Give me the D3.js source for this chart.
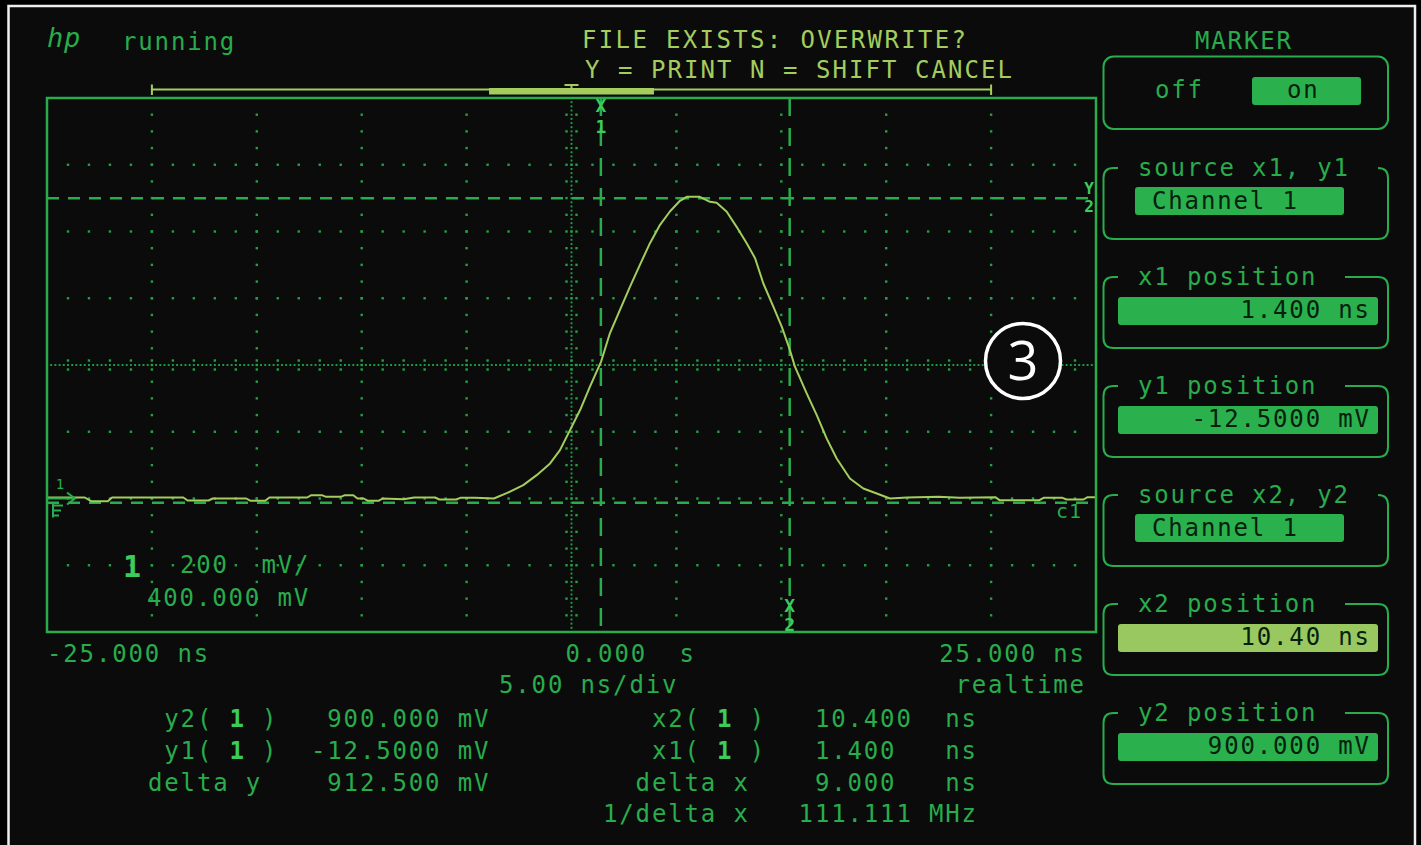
<!DOCTYPE html>
<html><head><meta charset="utf-8">
<script src="https://cdn.jsdelivr.net/npm/d3@7"></script>
<style>
html,body{margin:0;padding:0;background:#000;}
svg{display:block;}
text{font-family:"DejaVu Sans Mono",monospace;white-space:pre;}
</style></head><body>
<svg id="c" width="1421" height="845"></svg>
<script>
// ---------------- data ----------------
const timeDomain = [-25, 25];        // ns, 5 ns/div
const voltDomain = [-400, 1200];     // mV, 200 mV/div, 400 mV centre
const timeDivTicks = [-20, -15, -10, -5, 5, 10, 15, 20];
const voltDivTicks = [-200, 0, 200, 600, 800, 1000];
const timeCentre = 0, voltCentre = 400;

const traceTime = [-25, -23.2, -22.9, -22.1, -21.9, -18.5, -18.3, -17.3, -17.1, -15.5, -15.3, -14.6, -14.4, -12.6, -12.4, -11.9, -11.7, -11.0, -10.8, -10.4, -10.2, -9.9, -9.7, -9.2, -9.0, -8.0, -7.5, -6.5, -6.3, -5.5, -5.3, -4.6, -3.7,
  -3.09, -2.30, -1.66, -1.02, -0.55, -0.07, 0.41, 0.88, 1.41, 1.83, 2.31, 2.79, 3.26, 3.74, 4.22, 4.69, 5.17, 5.49, 6.12, 6.60, 6.92, 7.40, 7.87, 8.35, 8.75, 9.14, 9.62, 10.02, 10.41, 10.65, 11.21, 11.69, 12.16, 12.64, 13.27, 13.91, 14.55, 15.18,
  16.0, 17.5, 18.5, 20.2, 20.4, 22.3, 22.5, 23.4, 23.6, 24.4, 24.6, 25];
const traceVolt = [3, 3, -8, -8, 3, 3, -6, -6, 0, 0, -7, -7, 3, 3, 10, 10, 5, 5, 10, 10, 0, 0, -7, -7, 0, -2, 3, 3, -3, -3, 2, 2, 0,
  16, 40, 70, 105, 145, 205, 265, 335, 410, 495, 565, 635, 700, 765, 820, 860, 892, 904, 904, 889, 886, 859, 814, 765, 720, 645, 575, 515, 445, 395, 315, 250, 180, 120, 60, 30, 15, 0,
  3, 5, 2, 4, -5, -5, 2, 2, -3, -3, 4, 4];

const cursorTimes = [1.4, 10.4];       // x1, x2 (ns)
const cursorVolts = [-12.5, 900];      // y1, y2 (mV)
const groundVolt = 0;
const overviewRange = [-20, 20];
const windowRange = [-3.93, 3.93];

const timeTickLabels = ["-25.000 ns", "0.000  s", "25.000 ns"];
const scaleLabels = ["5.00 ns/div", "realtime"];
const channelLabels = ["1", "200  mV/", "400.000 mV"];
const headerTexts = ["running", "FILE EXISTS: OVERWRITE?", "Y = PRINT N = SHIFT CANCEL"];

const yRowLabels = ["y2(", "y1(", "delta y"];
const yRowValues = ["900.000 mV", "-12.5000 mV", "912.500 mV"];
const xRowLabels = ["x2(", "x1(", "delta x", "1/delta x"];
const xRowValues = ["10.400", "1.400", "9.000", "111.111"];
const xRowUnits = ["ns", "ns", "ns", "MHz"];

const menuTitle = "MARKER";
const menuToggle = ["off", "on"];
const menuLabels = ["source x1, y1", "x1 position", "y1 position", "source x2, y2", "x2 position", "y2 position"];
const menuValues = ["Channel 1", "1.400 ns", "-12.5000 mV", "Channel 1", "10.40 ns", "900.000 mV"];
const menuKinds = ["source", "pos", "pos", "source", "pos-active", "pos"];

// ---------------- styles ----------------
const GREEN = "#29ac4b", GRID = "#20a244", BRIGHT = "#3ccc5c", YG = "#a4cd5e";
const HL = "#2bb04e", HL2 = "#98c85f", HLTXT = "#07200d";
const FS = 24, CW = 16.3;

const svg = d3.select("#c");
svg.append("rect").attr("x", 0).attr("y", 0).attr("width", 1421).attr("height", 845).attr("fill", "#000");
svg.append("rect").attr("x", 8.5).attr("y", 6).attr("width", 1406.5).attr("height", 900)
  .attr("fill", "#0b0b0b").attr("stroke", "#eeeeee").attr("stroke-width", 2.5);

function txt(g, s, x, y, o = {}) {
  const fs = o.fs || FS, cw = o.cw || CW;
  const ls = cw - 0.6021 * fs;
  const w = s.length * cw - ls;
  let x0 = x;
  if (o.anchor === "end") x0 = x - w;
  else if (o.anchor === "middle") x0 = x - w / 2;
  return g.append("text").attr("x", x0).attr("y", y).attr("font-size", fs)
    .attr("letter-spacing", ls).attr("fill", o.fill || GREEN)
    .attr("font-weight", o.bold ? "bold" : null)
    .attr("font-style", o.italic ? "italic" : null).text(s);
}

// ---------------- scales ----------------
const L = 47, R = 1096, T = 98, B = 632;
const x = d3.scaleLinear().domain(timeDomain).range([L, R]);
const y = d3.scaleLinear().domain(voltDomain).range([B, T]);

const plot = svg.append("g");

// grid dots
const dots = plot.append("g").attr("fill", GRID);
function dot(px, py, s = 2.4) { dots.append("rect").attr("x", px - s / 2).attr("y", py - s / 2).attr("width", s).attr("height", s); }
timeDivTicks.forEach(t => { for (let v = voltDomain[0] + 50; v < voltDomain[1]; v += 50) dot(x(t), y(v)); });
voltDivTicks.forEach(v => { for (let t = timeDomain[0] + 1; t < timeDomain[1] - 0.01; t += 1) dot(x(t), y(v)); });
// centre lines (dense, with cross ticks)
for (let v = voltDomain[0]; v <= voltDomain[1]; v += 12.5) dot(x(timeCentre), y(v), 1.9);
for (let v = voltDomain[0] + 50; v < voltDomain[1]; v += 50) { dot(x(timeCentre) - 5, y(v)); dot(x(timeCentre) + 5, y(v)); }
for (let t = timeDomain[0]; t <= timeDomain[1] + 0.001; t += 0.2) dot(x(t), y(voltCentre), 1.9);
for (let t = timeDomain[0] + 1; t < timeDomain[1] - 0.01; t += 1) { dot(x(t), y(voltCentre) - 4.5); dot(x(t), y(voltCentre) + 4.5); }

// cursors
const cur = plot.append("g").attr("stroke", GREEN).attr("stroke-width", 2.5).attr("fill", "none");
cursorVolts.forEach(v => cur.append("line").attr("x1", L).attr("x2", R).attr("y1", y(v)).attr("y2", y(v)).attr("stroke-dasharray", "12,9"));
cursorTimes.forEach(t => cur.append("line").attr("x1", x(t)).attr("x2", x(t)).attr("y1", T).attr("y2", B).attr("stroke-dasharray", "18,12"));

// trace
const pts = traceTime.map((t, i) => [t, traceVolt[i]]);
plot.append("path").datum(pts).attr("fill", "none").attr("stroke", YG).attr("stroke-width", 2)
  .attr("stroke-linejoin", "round")
  .attr("d", d3.line().x(d => x(d[0])).y(d => y(d[1])));

// border
plot.append("rect").attr("x", L).attr("y", T).attr("width", R - L).attr("height", B - T)
  .attr("fill", "none").attr("stroke", GREEN).attr("stroke-width", 2.5);

// cursor labels (stacked, non-overlapping)
const lab = { anchor: "middle", fs: 18, cw: 12, bold: 1, fill: BRIGHT };
txt(svg, "X", x(cursorTimes[0]), 112, lab);
txt(svg, "1", x(cursorTimes[0]), 133, lab);
txt(svg, "X", x(cursorTimes[1]), 612, lab);
txt(svg, "2", x(cursorTimes[1]), 631, lab);
txt(svg, "Y", 1089, y(cursorVolts[1]) - 4, { ...lab, fs: 16, cw: 11 });
txt(svg, "2", 1089, y(cursorVolts[1]) + 14, { ...lab, fs: 16, cw: 11 });
txt(svg, "c1", 1056, y(cursorVolts[0]) + 15, { fs: 20, cw: 13 });

// ground marker
const gy = y(groundVolt);
const gm = svg.append("g").attr("stroke", GREEN).attr("stroke-width", 2).attr("fill", "none");
gm.append("path").attr("d", `M48,${gy} L75,${gy} M67,${gy - 6} L75,${gy} L67,${gy + 6}`);
gm.append("path").attr("d", `M53,${gy + 5} L53,${gy + 19} M53,${gy + 7} L63,${gy + 7} M53,${gy + 12} L61,${gy + 12} M53,${gy + 17} L59,${gy + 17}`);
txt(svg, "1", 60, gy - 10, { anchor: "middle", fs: 14, cw: 9 });

// channel info
txt(svg, channelLabels[0], 123, 577, { fs: 30, cw: 18, bold: 1, fill: BRIGHT });
txt(svg, channelLabels[1], 180, 573);
txt(svg, channelLabels[2], 147, 606);

// header
txt(svg, "hp", 47, 47, { fs: 27, cw: 17, italic: 1 });
txt(svg, headerTexts[0], 122, 50);
txt(svg, headerTexts[1], 582, 48, { fill: YG, cw: 16.8 });
txt(svg, headerTexts[2], 585, 78, { fill: YG, cw: 16.5 });

// overview bar
const ob = svg.append("g").attr("stroke", YG).attr("fill", YG);
ob.append("line").attr("x1", x(overviewRange[0])).attr("x2", x(overviewRange[1])).attr("y1", 89.5).attr("y2", 89.5).attr("stroke-width", 2);
overviewRange.forEach(t => ob.append("line").attr("x1", x(t)).attr("x2", x(t)).attr("y1", 84.5).attr("y2", 95).attr("stroke-width", 2));
ob.append("rect").attr("x", x(windowRange[0])).attr("y", 88).attr("width", x(windowRange[1]) - x(windowRange[0])).attr("height", 6.5).attr("stroke", "none");
ob.append("path").attr("d", `M${x(0) - 7},85 L${x(0) + 7},85 M${x(0)},85 L${x(0)},89`).attr("stroke-width", 2).attr("fill", "none");

// axis labels
txt(svg, timeTickLabels[0], x(timeDomain[0]), 662);
txt(svg, timeTickLabels[1], x(0) - 6, 662);
txt(svg, timeTickLabels[2], 1084, 662, { anchor: "end" });
txt(svg, scaleLabels[0], 499, 693);
txt(svg, scaleLabels[1], 1084, 693, { anchor: "end" });

// measurement table
const rowY = [727, 759, 791, 822];
const LX = 148, RX = 603;
yRowLabels.forEach((s, i) => {
  if (s.endsWith("(")) {
    txt(svg, s, LX + CW, rowY[i]);
    txt(svg, "1", LX + 5 * CW, rowY[i], { bold: 1, fill: BRIGHT });
    txt(svg, ")", LX + 7 * CW, rowY[i]);
  } else txt(svg, s, LX, rowY[i]);
  txt(svg, yRowValues[i], LX + (yRowValues[i].length > 10 ? 10 : 11) * CW, rowY[i]);
});
xRowLabels.forEach((s, i) => {
  if (s.endsWith("(")) {
    txt(svg, s, RX + 3 * CW, rowY[i]);
    txt(svg, "1", RX + 7 * CW, rowY[i], { bold: 1, fill: BRIGHT });
    txt(svg, ")", RX + 9 * CW, rowY[i]);
  } else txt(svg, s, RX + (9 - s.length) * CW, rowY[i]);
  txt(svg, xRowValues[i], RX + (xRowValues[i].length > 6 ? 12 : 13) * CW, rowY[i]);
  txt(svg, xRowUnits[i], RX + (23 - xRowUnits[i].length) * CW, rowY[i]);
});

// ---------------- right menu ----------------
const BX0 = 1103.5, BX1 = 1388;
txt(svg, menuTitle, 1195, 49);
svg.append("rect").attr("x", BX0).attr("y", 56.5).attr("width", BX1 - BX0).attr("height", 72.5).attr("rx", 10)
  .attr("fill", "none").attr("stroke", GREEN).attr("stroke-width", 2);
txt(svg, menuToggle[0], 1155, 98);
svg.append("rect").attr("x", 1252).attr("y", 77).attr("width", 109).attr("height", 28).attr("rx", 3).attr("fill", HL);
txt(svg, menuToggle[1], 1287, 98, { fill: HLTXT });

const boxTops = [168, 277, 386, 495, 604, 713];
menuLabels.forEach((lab, i) => {
  const t = boxTops[i], b = t + 71, r = 10;
  const isSrc = menuKinds[i] === "source";
  const gapEnd = isSrc ? BX1 - r : 1345;
  const d = `M1118,${t} L${BX0 + r},${t} Q${BX0},${t} ${BX0},${t + r} L${BX0},${b - r} Q${BX0},${b} ${BX0 + r},${b} ` +
    `L${BX1 - r},${b} Q${BX1},${b} ${BX1},${b - r} L${BX1},${t + r} Q${BX1},${t} ${BX1 - r},${t} L${gapEnd},${t}`;
  svg.append("path").attr("d", d).attr("fill", "none").attr("stroke", GREEN).attr("stroke-width", 2);
  txt(svg, lab, 1138, t + 8);
  if (isSrc) {
    svg.append("rect").attr("x", 1135).attr("y", t + 19).attr("width", 209).attr("height", 28).attr("rx", 3).attr("fill", HL);
    txt(svg, menuValues[i], 1152, t + 41, { fill: HLTXT });
  } else {
    svg.append("rect").attr("x", 1118).attr("y", t + 20).attr("width", 260).attr("height", 28).attr("rx", 3)
      .attr("fill", menuKinds[i] === "pos-active" ? HL2 : HL);
    txt(svg, menuValues[i], 1369, t + 41, { anchor: "end", fill: HLTXT });
  }
});

// ---------------- callout ----------------
svg.append("circle").attr("cx", 1023).attr("cy", 361).attr("r", 37.5).attr("fill", "#0b0b0b")
  .attr("stroke", "#ffffff").attr("stroke-width", 3.5);
svg.append("text").attr("x", 1023).attr("y", 380).attr("text-anchor", "middle")
  .attr("font-size", 54).attr("fill", "#ffffff").style("font-family", "'Open Sans', sans-serif").text("3");
</script>
</body></html>
